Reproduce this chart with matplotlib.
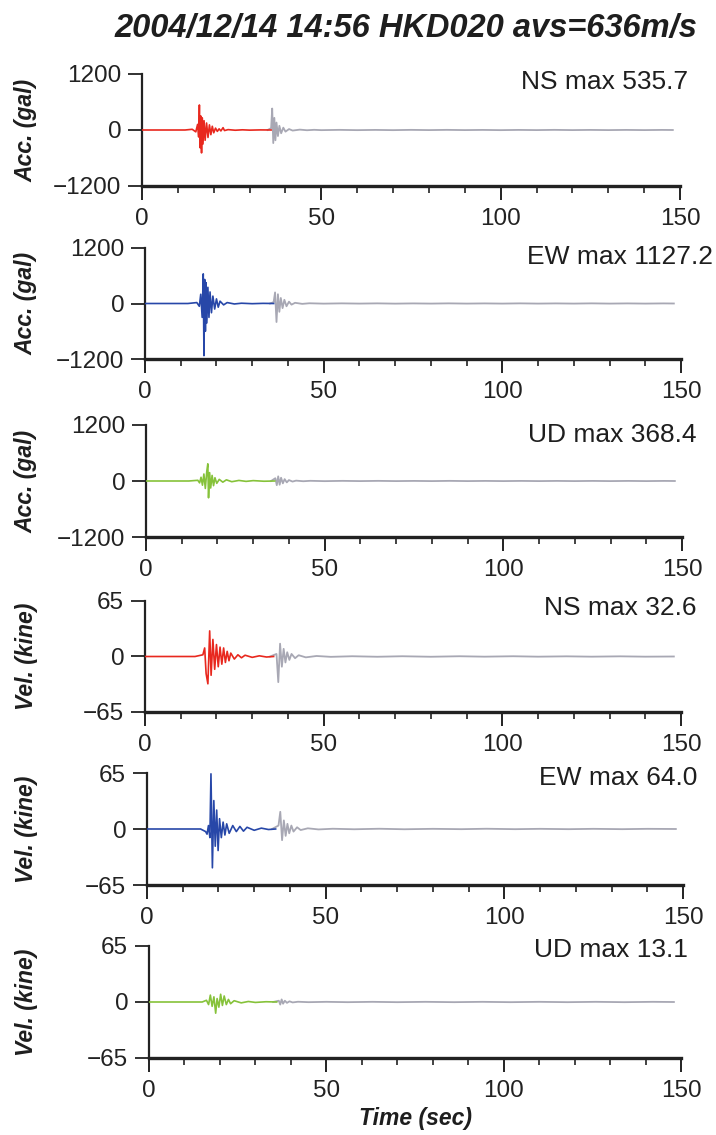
import matplotlib
matplotlib.use("Agg")
import matplotlib.pyplot as plt
from matplotlib.ticker import MultipleLocator

plt.rcParams['font.family'] = ['Liberation Sans', 'DejaVu Sans']

TITLE = "2004/12/14 14:56 HKD020 avs=636m/s"
X_TICKS = [0, 50, 100, 150]
ACC_TICKS = [-1200, 0, 1200]
VEL_TICKS = [-65, 0, 65]
LABELS = ["NS max 535.7", "EW max 1127.2", "UD max 368.4",
          "NS max 32.6", "EW max 64.0", "UD max 13.1"]

# --- acceleration, NS (gal): main record and later record ---
ns_acc_t = [0, 12, 14, 15, 15.5, 15.8, 16.0, 16.2, 16.4, 16.6, 16.8, 17.0, 17.3, 17.6,
            18.0, 18.4, 18.8, 19.2, 19.6, 20.0, 20.5, 21.0, 21.5, 22.0, 22.6, 23.0, 24,
            26, 28, 30, 33, 36]
ns_acc_a = [0, 0, 15, -40, 120, -150, 536, -380, 300, -490, 260, -300, 200, -220,
            150, -160, 110, -100, 80, -60, 40, -30, 25, -20, 50, -12, 8,
            -5, 4, -3, 2, 0]
ns_acc_t2 = [35, 36.0, 36.3, 36.6, 36.9, 37.2, 37.5, 37.9, 38.3, 38.8, 39.4, 40, 41, 42,
             44, 46, 48, 50, 55, 60, 65, 70, 75, 80, 85, 90, 95, 100, 105, 110, 115,
             120, 125, 130, 135, 140, 145, 148]
ns_acc_a2 = [0, 40, 460, -280, 260, -220, 160, -130, 90, -70, 50, -35, 20, -12,
             8, -5, 4, -3, 3, -3, 2, -3, 3, -2, 3, -2, 2, -3, 2, -2, 3,
             -2, 2, -2, 2, -2, 2, 0]

# --- acceleration, EW (gal) ---
ew_acc_t = [0, 12, 14.5, 15.2, 15.6, 16.0, 16.3, 16.5, 16.7, 16.9, 17.1, 17.3, 17.6,
            17.9, 18.2, 18.6, 19.0, 19.5, 20.0, 20.5, 21, 22, 23, 25, 27, 30, 33, 36]
ew_acc_a = [0, 0, 20, -60, 200, -300, 640, -1127, 520, -600, 450, -420, 350,
            -300, 250, -200, 160, -120, 100, -80, 50, -30, 20, -10, 6, -4, 3, 0]
ew_acc_t2 = [35, 36.0, 36.4, 36.8, 37.2, 37.6, 38.0, 38.5, 39.0, 39.6, 40.3, 41, 42, 44,
             46, 50, 55, 60, 65, 70, 75, 80, 85, 90, 95, 100, 105, 110, 115, 120, 125,
             130, 135, 140, 145, 148]
ew_acc_a2 = [0, 30, 240, -400, 200, -180, 120, -100, 80, -60, 40, -25, 15, -8,
             5, -3, 3, -2, 3, -3, 2, -2, 3, -2, 2, -2, 3, -2, 2, -2, 3,
             -2, 2, -2, 2, 0]

# --- acceleration, UD (gal) ---
ud_acc_t = [0, 12, 14.5, 15.0, 15.4, 15.8, 16.2, 16.6, 17.0, 17.3, 17.5, 17.8, 18.1,
            18.5, 18.9, 19.3, 19.8, 20.5, 21.5, 22.5, 24, 26, 28, 30, 33, 36]
ud_acc_a = [0, 0, 15, -40, 80, -90, 150, -160, 200, 368, -360, 180, -150,
            120, -100, 70, -50, 35, -25, 25, -15, 12, -8, 8, -5, 0]
ud_acc_t2 = [35, 36.2, 36.6, 37.0, 37.4, 37.8, 38.3, 38.8, 39.4, 40, 41, 42, 44, 46,
             50, 55, 60, 65, 70, 75, 80, 85, 90, 95, 100, 105, 110, 115, 120, 125,
             130, 135, 140, 145, 148]
ud_acc_a2 = [0, 60, -90, 100, -80, 70, -50, 40, -30, 20, -12, 8, -5, 4,
             -3, 3, -2, 3, -2, 2, -2, 3, -2, 2, -2, 2, -2, 2, -2, 2,
             -2, 2, -2, 2, 0]

# --- velocity, NS (kine) ---
ns_vel_t = [0, 14, 16.2, 16.7, 17.1, 17.6, 18.1, 18.5, 19.0, 19.5, 20.0, 20.5, 21.0,
            21.5, 22.0, 22.5, 23.0, 23.5, 24.0, 25, 26, 27, 28, 30, 32, 34, 36]
ns_vel_v = [0, 0, 2, 10, -20, -32, 30, -22, 20, -15, 14, -12, 11,
            -9, 10, -7, 6, -5, 4, -3, 2, -1.5, 1.5, -1, 0.8, -0.6, 0]
ns_vel_t2 = [35, 36.8, 37.3, 37.8, 38.3, 38.8, 39.3, 39.8, 40.4, 41, 42, 43, 45, 48,
             52, 58, 65, 72, 80, 88, 95, 103, 110, 118, 125, 133, 140, 148]
ns_vel_v2 = [0, 3, -30, 15, -12, 9, -7, 5, -4, 3, -2, 1.5, -1, 0.6,
             -0.4, 0.3, -0.3, 0.3, -0.3, 0.3, -0.2, 0.3, -0.2, 0.2, -0.2, 0.2, -0.2, 0]

# --- velocity, EW (kine) ---
ew_vel_t = [0, 15, 16.4, 16.8, 17.2, 17.6, 17.9, 18.3, 18.7, 19.1, 19.5, 19.9, 20.3,
            20.8, 21.3, 21.8, 22.3, 23, 24, 25, 26, 27, 28, 30, 32, 34, 36]
ew_vel_v = [0, 0, -3, -6, 4, -10, 64, -45, 33, -20, 22, -25, 12,
            -10, 8, -7, 6, -5, 4, -3, 3, -2.5, 2, -1.5, 1, -0.6, 0]
ew_vel_t2 = [35, 36.8, 37.3, 37.8, 38.3, 38.8, 39.3, 39.8, 40.4, 41, 42, 43, 45, 48,
             52, 58, 65, 72, 80, 88, 95, 103, 110, 118, 125, 133, 140, 148]
ew_vel_v2 = [0, 4, 20, -13, 10, -8, 6, -5, 4, -3, 2, -1.2, 0.8, -0.5,
             0.3, -0.3, 0.3, -0.3, 0.2, -0.2, 0.3, -0.2, 0.2, -0.2, 0.2, -0.2, 0.2, 0]

# --- velocity, UD (kine) ---
ud_vel_t = [0, 15, 16.2, 16.8, 17.3, 17.8, 18.3, 18.8, 19.2, 19.7, 20.2, 20.7, 21.2,
            21.8, 22.4, 23, 24, 26, 28, 30, 33, 36]
ud_vel_v = [0, 0, 2, -3, 8, -5, 6, -13, 4, -6, 9, -4, 7,
            -3, 3, -2, 1.5, -1, 0.6, -0.5, 0.3, 0]
ud_vel_t2 = [35, 36.6, 37.0, 37.4, 37.8, 38.3, 38.9, 39.6, 40.5, 42, 45, 50, 56, 63,
             70, 78, 86, 94, 102, 110, 118, 126, 134, 142, 148]
ud_vel_v2 = [0, 1.5, -3, 3, -2, 1.5, -1, 0.8, -0.5, 0.3, -0.2, 0.2, -0.2, 0.2,
             -0.2, 0.2, -0.2, 0.2, -0.2, 0.2, -0.2, 0.2, -0.2, 0.2, 0]

traces = [
    (ns_acc_t, ns_acc_a, ns_acc_t2, ns_acc_a2),
    (ew_acc_t, ew_acc_a, ew_acc_t2, ew_acc_a2),
    (ud_acc_t, ud_acc_a, ud_acc_t2, ud_acc_a2),
    (ns_vel_t, ns_vel_v, ns_vel_t2, ns_vel_v2),
    (ew_vel_t, ew_vel_v, ew_vel_t2, ew_vel_v2),
    (ud_vel_t, ud_vel_v, ud_vel_t2, ud_vel_v2),
]
colors = ["#e8281e", "#2747a8", "#86c23a", "#e8281e", "#2747a8", "#86c23a"]
later_color = "#a8a8b4"
text_color = "#1e1e1e"

W, H = 716, 1135
fig = plt.figure(figsize=(W / 100, H / 100), dpi=100)
fig.patch.set_facecolor("white")

# panel frames in pixels: left, right, top, bottom
frames = [(142, 680, 74, 186), (145, 681, 248, 359), (146, 682, 425, 537),
          (145, 681, 601, 712), (147, 683, 773, 885), (149, 681, 946, 1058)]
label_right = [688, 713, 697, 697, 697, 688]
label_y = [82, 257, 435, 608, 778, 950]

for i, ((l, r, t, b), (ta, va, tb, vb), col) in enumerate(zip(frames, traces, colors)):
    ax = fig.add_axes([l / W, 1 - b / H, (r - l) / W, (b - t) / H])
    ax.plot(tb, vb, color=later_color, lw=1.3, zorder=2)
    ax.plot(ta, va, color=col, lw=1.2, zorder=3)
    ticks = ACC_TICKS if i < 3 else VEL_TICKS
    ax.set_xlim(0, 150)
    ax.set_ylim(ticks[0], ticks[-1])
    ax.set_xticks(X_TICKS)
    ax.set_yticks(ticks)
    ax.xaxis.set_minor_locator(MultipleLocator(10))
    for s in ("top", "right"):
        ax.spines[s].set_visible(False)
    ax.spines["left"].set_linewidth(1.6)
    ax.spines["bottom"].set_linewidth(2.4)
    ax.spines["left"].set_color("#222222")
    ax.spines["bottom"].set_color("#222222")
    ax.tick_params(axis="x", which="major", direction="out", length=10, width=1.4,
                   pad=6, labelsize=17.5, colors="#222222")
    ax.tick_params(axis="x", which="minor", direction="out", length=5, width=1.2,
                   colors="#222222")
    ax.tick_params(axis="y", which="major", direction="out", length=10, width=1.3,
                   pad=5, labelsize=17.5, colors="#222222")
    ax.set_facecolor("none")
    ax.text((label_right[i] - l) / (r - l), 1 - (label_y[i] - t) / (b - t), LABELS[i],
            transform=ax.transAxes, ha="right", va="center", fontsize=19,
            color=text_color)
    ylab = "Acc. (gal)" if i < 3 else "Vel. (kine)"
    fig.text(26 / W, 1 - ((t + b) / 2) / H, ylab, rotation=90, ha="center",
             va="center", fontsize=16.5, fontweight="bold", fontstyle="italic",
             color=text_color)

fig.text(406 / W, 1 - 28 / H, TITLE, ha="center", va="center", fontsize=23.5,
         fontweight="bold", fontstyle="italic", color=text_color)
fig.text(415 / W, 1 - 1119 / H, "Time (sec)", ha="center", va="center",
         fontsize=16.5, fontweight="bold", fontstyle="italic", color=text_color)

fig.savefig("out.png", dpi=100, facecolor="white")
